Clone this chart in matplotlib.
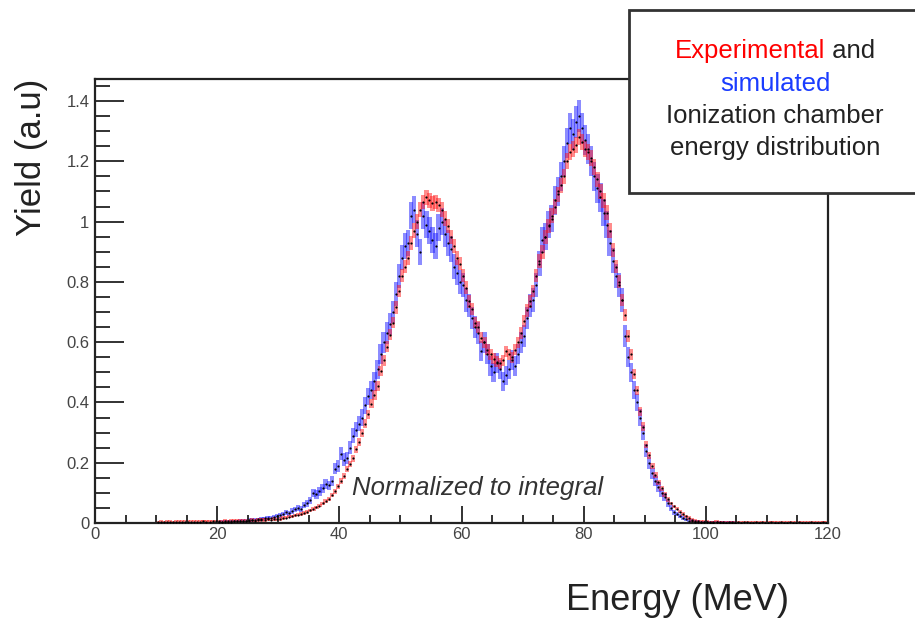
import numpy as np
import matplotlib
matplotlib.use("Agg")
import matplotlib.pyplot as plt
from matplotlib.patches import Rectangle

plt.rcParams['font.family'] = ['Liberation Sans', 'DejaVu Sans']

# histogram binning (MeV)
bin_width = 0.5
red_start = 10.0
blue_start = 20.0

# experimental yield, 10 - 120 MeV, 0.5 MeV bins
red_yield = [
    0.002, 0.003, 0.002, 0.003, 0.003, 0.002, 0.003, 0.004, 0.003, 0.003,
    0.004, 0.003, 0.004, 0.004, 0.003, 0.005, 0.004, 0.004, 0.005, 0.005,
    0.005, 0.004, 0.006, 0.005, 0.006, 0.006, 0.007, 0.006, 0.008, 0.007,
    0.008, 0.009, 0.008, 0.010, 0.011, 0.010, 0.012, 0.011, 0.013, 0.012,
    0.014, 0.016, 0.018, 0.021, 0.022, 0.025, 0.028, 0.030, 0.034, 0.037,
    0.042, 0.046, 0.052, 0.058, 0.065, 0.072, 0.080, 0.092, 0.105, 0.122,
    0.140, 0.155, 0.178, 0.195, 0.215, 0.245, 0.268, 0.300, 0.330, 0.360,
    0.395, 0.425, 0.455, 0.505, 0.540, 0.585, 0.625, 0.665, 0.715, 0.770,
    0.820, 0.850, 0.880, 0.930, 0.970, 1.000, 1.040, 1.065, 1.080, 1.070,
    1.060, 1.065, 1.055, 1.040, 1.010, 0.985, 0.950, 0.920, 0.880, 0.860,
    0.820, 0.780, 0.735, 0.710, 0.665, 0.650, 0.615, 0.600, 0.575, 0.560,
    0.545, 0.535, 0.530, 0.540, 0.570, 0.560, 0.550, 0.575, 0.600, 0.630,
    0.670, 0.705, 0.735, 0.770, 0.820, 0.870, 0.900, 0.950, 0.985, 1.020,
    1.050, 1.090, 1.120, 1.150, 1.200, 1.230, 1.240, 1.255, 1.280, 1.265,
    1.240, 1.230, 1.210, 1.180, 1.140, 1.100, 1.070, 1.030, 0.970, 0.905,
    0.850, 0.800, 0.740, 0.690, 0.620, 0.560, 0.495, 0.440, 0.370, 0.320,
    0.260, 0.225, 0.190, 0.160, 0.135, 0.115, 0.095, 0.078, 0.065, 0.055,
    0.048, 0.038, 0.030, 0.022, 0.016, 0.010, 0.007, 0.005, 0.004, 0.003,
    0.003, 0.002, 0.002, 0.003, 0.002, 0.002, 0.001, 0.002, 0.002, 0.001,
    0.002, 0.001, 0.002, 0.002, 0.001, 0.001, 0.002, 0.001, 0.002, 0.001,
    0.001, 0.002, 0.001, 0.001, 0.002, 0.001, 0.001, 0.002, 0.001, 0.001,
    0.002, 0.001, 0.001, 0.001, 0.002, 0.001, 0.001, 0.001, 0.002, 0.001,
]

# simulated yield, 20 - 105 MeV, 0.5 MeV bins
blue_yield = [
    0.002, 0.003, 0.003, 0.004, 0.004, 0.005, 0.005, 0.006, 0.007, 0.008,
    0.009, 0.010, 0.011, 0.012, 0.014, 0.015, 0.016, 0.018, 0.020, 0.022,
    0.025, 0.030, 0.035, 0.032, 0.040, 0.045, 0.050, 0.048, 0.060, 0.065,
    0.075, 0.100, 0.095, 0.105, 0.115, 0.130, 0.125, 0.140, 0.180, 0.190,
    0.230, 0.210, 0.215, 0.250, 0.290, 0.310, 0.330, 0.350, 0.390, 0.420,
    0.440, 0.470, 0.510, 0.560, 0.600, 0.630, 0.660, 0.700, 0.760, 0.820,
    0.880, 0.920, 0.930, 1.020, 1.040, 0.960, 0.900, 1.020, 0.990, 0.970,
    0.940, 0.920, 0.980, 1.000, 0.960, 0.930, 0.910, 0.850, 0.830, 0.800,
    0.790, 0.740, 0.720, 0.680, 0.650, 0.630, 0.570, 0.600, 0.560, 0.520,
    0.500, 0.530, 0.510, 0.470, 0.490, 0.510, 0.540, 0.520, 0.560, 0.600,
    0.620, 0.680, 0.720, 0.740, 0.790, 0.860, 0.940, 0.950, 0.990, 1.010,
    1.070, 1.100, 1.150, 1.200, 1.260, 1.310, 1.290, 1.330, 1.350, 1.310,
    1.270, 1.240, 1.200, 1.150, 1.110, 1.080, 1.030, 0.990, 0.930, 0.870,
    0.820, 0.790, 0.740, 0.620, 0.550, 0.500, 0.440, 0.400, 0.350, 0.300,
    0.240, 0.200, 0.165, 0.140, 0.120, 0.100, 0.085, 0.065, 0.050, 0.035,
    0.030, 0.022, 0.016, 0.012, 0.008, 0.006, 0.004, 0.003, 0.002, 0.002,
    0.002, 0.001, 0.001, 0.002, 0.001, 0.001, 0.001, 0.001, 0.001, 0.001,
]

# statistical error scale (err = k * sqrt(y))
red_err_k = 0.024
blue_err_k = 0.045

x_ticks = [0, 20, 40, 60, 80, 100, 120]
y_ticks = [0, 0.2, 0.4, 0.6, 0.8, 1.0, 1.2, 1.4]


def draw_hist(ax, start, vals, k, color):
    y = np.array(vals)
    x = start + bin_width / 2 + bin_width * np.arange(len(y))
    err = np.maximum(k * np.sqrt(y), 0.006)
    ax.bar(x, 2 * err, bottom=y - err, width=bin_width * 1.4, color=color,
           alpha=0.5, linewidth=0)
    ax.scatter(x, y, s=2.5, color='black', zorder=4, linewidths=0)


fig = plt.figure(figsize=(9.15, 6.19), dpi=100)
ax = fig.add_axes([95 / 915, 1 - 523 / 619, (828 - 95) / 915, (523 - 79) / 619])

draw_hist(ax, blue_start, blue_yield, blue_err_k, '#1a1aff')
draw_hist(ax, red_start, red_yield, red_err_k, '#ff1a1a')

ax.set_xlim(0, 120)
ax.set_ylim(0, 1.473)
ax.set_xticks(x_ticks)
ax.set_xticklabels([str(t) for t in x_ticks])
ax.set_yticks(y_ticks)
ax.set_yticklabels(['%g' % t for t in y_ticks])
ax.set_xticks(np.arange(0, 121, 5), minor=True)
ax.set_yticks(np.arange(0, 1.46, 0.05), minor=True)
ax.tick_params(which='both', direction='in', top=False, right=False,
               colors='#222222', labelcolor='#444444', labelsize=12)
ax.tick_params(axis='y', which='major', length=21, width=1.3, pad=4)
ax.tick_params(axis='y', which='minor', length=11, width=1.3)
ax.tick_params(axis='x', which='major', length=12, width=1.3, pad=3)
ax.tick_params(axis='x', which='minor', length=6, width=1.3)
for s in ax.spines.values():
    s.set_linewidth(1.6)
    s.set_color('#222222')

fig.text(32 / 915, 1 - 157 / 619, 'Yield (a.u)', rotation=90, fontsize=25,
         color='#222222', ha='center', va='center')
fig.text(678 / 915, 1 - 600 / 619, 'Energy (MeV)', fontsize=26,
         color='#222222', ha='center', va='center')
ax.text(478 / 915, 1 - 488 / 619, 'Normalized to integral', transform=fig.transFigure,
        fontsize=18.5, style='italic', color='#333333', ha='center', va='center')

# caption box top-right
box = Rectangle((629 / 915, 1 - 193 / 619), 0.33, (193 - 10) / 619,
                transform=fig.transFigure, facecolor='white', edgecolor='#333333',
                linewidth=2, zorder=5)
fig.add_artist(box)

cx = 775 / 915
fs = 18.5
t1 = fig.text(0, 1 - 51 / 619, 'Experimental', color='#ff0000', fontsize=fs,
              va='center', ha='left', zorder=6)
t2 = fig.text(0, 1 - 51 / 619, ' and', color='#222222', fontsize=fs,
              va='center', ha='left', zorder=6)
fig.canvas.draw()
r = fig.canvas.get_renderer()
w1 = t1.get_window_extent(r).width / fig.bbox.width
w2 = t2.get_window_extent(r).width / fig.bbox.width
x0 = cx - (w1 + w2) / 2
t1.set_x(x0)
t2.set_x(x0 + w1)
fig.text(cx, 1 - 84 / 619, 'simulated', color='#1a3cff', fontsize=fs,
         ha='center', va='center', zorder=6)
fig.text(cx, 1 - 116 / 619, 'Ionization chamber', color='#222222', fontsize=fs,
         ha='center', va='center', zorder=6)
fig.text(cx, 1 - 148 / 619, 'energy distribution', color='#222222', fontsize=fs,
         ha='center', va='center', zorder=6)

fig.savefig('out.png', dpi=100)
